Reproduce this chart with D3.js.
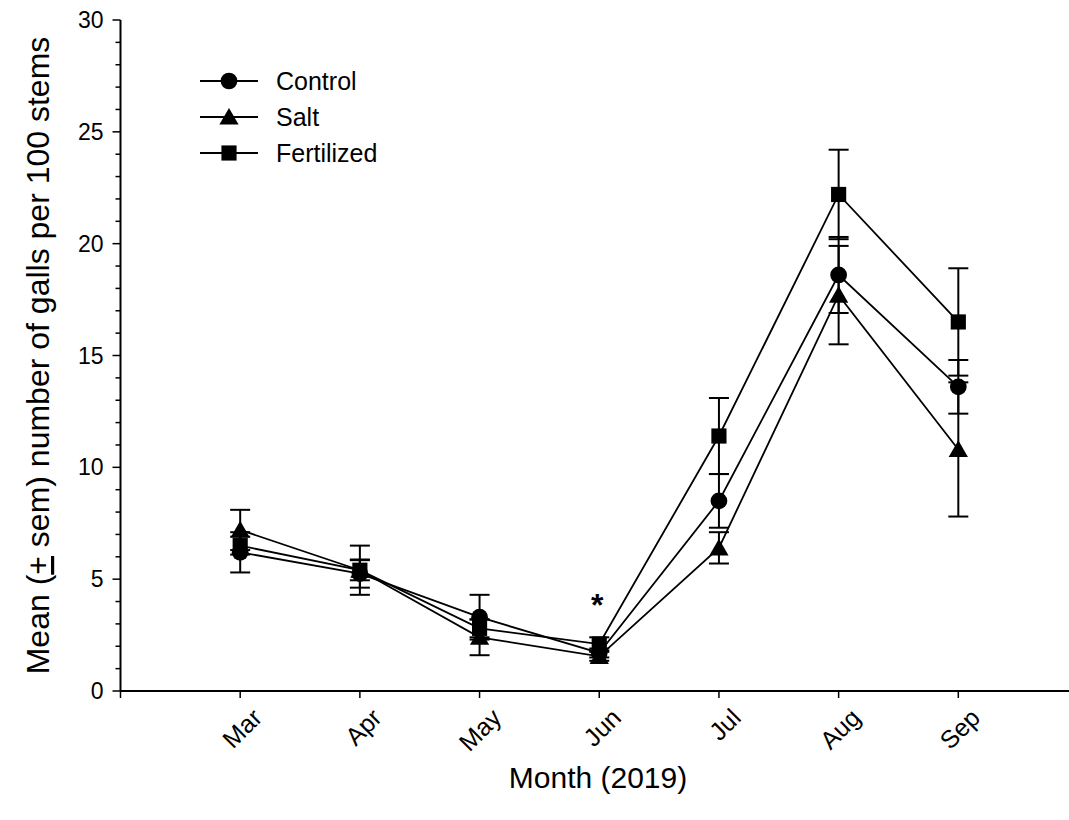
<!DOCTYPE html>
<html>
<head>
<meta charset="utf-8">
<script src="https://cdn.jsdelivr.net/npm/d3@7"></script>
<style>
  html, body { margin: 0; padding: 0; background: #fff; }
  svg { display: block; font-family: "Liberation Sans", Arial, sans-serif; }
</style>
</head>
<body>
<svg id="chart" width="1069" height="820"></svg>
<script>
// Gall counts per 100 stems, monthly means and standard errors (2019)
const months = ["Mar", "Apr", "May", "Jun", "Jul", "Aug", "Sep"];
const controlMean = [6.2, 5.25, 3.3, 1.7, 8.5, 18.6, 13.6];
const controlSem  = [0.9, 0.63, 1.0, 0.2, 1.2, 1.7, 1.2];
const saltMean    = [7.2, 5.4, 2.4, 1.55, 6.4, 17.7, 10.8];
const saltSem     = [0.9, 0.45, 0.8, 0.2, 0.7, 2.2, 3.0];
const fertMean    = [6.5, 5.4, 2.8, 2.1, 11.4, 22.2, 16.5];
const fertSem     = [0.4, 1.1, 0.4, 0.3, 1.7, 2.0, 2.4];
const yTicks = [0, 5, 10, 15, 20, 25, 30];
const significantMonths = ["Jun"];

const series = [
  { name: "Control",    mean: controlMean, sem: controlSem, shape: d3.symbolCircle,   size: 220 },
  { name: "Salt",       mean: saltMean,    sem: saltSem,    shape: d3.symbolTriangle, size: 160 },
  { name: "Fertilized", mean: fertMean,    sem: fertSem,    shape: d3.symbolSquare,   size: 230 }
];

const svg = d3.select("#chart");
const x = d3.scaleLinear().domain([0, 8]).range([120.5, 1078]);
const y = d3.scaleLinear().domain([0, 30]).range([691, 20]);
const mx = i => x(i + 1);

// Axes
const xAxis = svg.append("g").attr("transform", `translate(0,${y(0)})`);
xAxis.append("line").attr("x1", x(0)).attr("x2", 1069).attr("stroke", "#000").attr("stroke-width", 2);
xAxis.selectAll("line.tick").data(d3.range(0, 8)).join("line")
  .attr("class", "tick")
  .attr("x1", d => x(d)).attr("x2", d => x(d)).attr("y1", 0).attr("y2", 7)
  .attr("stroke", "#000").attr("stroke-width", 1.5);
xAxis.selectAll("text").data(months).join("text")
  .attr("transform", (d, i) => `translate(${mx(i) + 11},${16}) rotate(-45)`)
  .attr("text-anchor", "end")
  .attr("dy", "0.7em")
  .attr("font-size", 25)
  .text(d => d);

const yAxis = svg.append("g").attr("transform", `translate(${x(0)},0)`);
yAxis.append("line").attr("y1", y(0)).attr("y2", y(30)).attr("stroke", "#000").attr("stroke-width", 2);
yAxis.selectAll("line.minor").data(d3.range(0, 31)).join("line")
  .attr("class", "minor")
  .attr("x1", d => d % 5 === 0 ? -8 : -5).attr("x2", 0)
  .attr("y1", d => y(d)).attr("y2", d => y(d))
  .attr("stroke", "#000").attr("stroke-width", 1.5);
yAxis.selectAll("text").data(yTicks).join("text")
  .attr("x", -17).attr("y", d => y(d)).attr("dy", "0.35em")
  .attr("text-anchor", "end").attr("font-size", 23)
  .text(d => d);

// Axis titles
svg.append("text")
  .attr("x", 598).attr("y", 788)
  .attr("text-anchor", "middle").attr("font-size", 30)
  .text("Month (2019)");

const yTitle = svg.append("text")
  .attr("transform", `translate(49,${(y(0) + y(30)) / 2}) rotate(-90)`)
  .attr("text-anchor", "middle").attr("font-size", 32);
yTitle.append("tspan").text("Mean (");
yTitle.append("tspan").attr("text-decoration", "underline").text("+");
yTitle.append("tspan").text(" sem) number of galls per 100 stems");

// Lines
const line = d3.line().x((d, i) => mx(i)).y(d => y(d));
svg.append("g").selectAll("path").data(series).join("path")
  .attr("d", s => line(s.mean))
  .attr("fill", "none").attr("stroke", "#000").attr("stroke-width", 1.8);

// Error bars
const capHalf = 10;
series.forEach(s => {
  const g = svg.append("g").attr("stroke", "#000").attr("stroke-width", 2);
  s.mean.forEach((m, i) => {
    const lo = y(m - s.sem[i]), hi = y(m + s.sem[i]), cx = mx(i);
    g.append("line").attr("x1", cx).attr("x2", cx).attr("y1", lo).attr("y2", hi);
    g.append("line").attr("x1", cx - capHalf).attr("x2", cx + capHalf).attr("y1", hi).attr("y2", hi);
    g.append("line").attr("x1", cx - capHalf).attr("x2", cx + capHalf).attr("y1", lo).attr("y2", lo);
  });
});

// Markers
series.forEach(s => {
  const sym = d3.symbol().type(s.shape).size(s.size);
  svg.append("g").selectAll("path").data(s.mean).join("path")
    .attr("d", sym)
    .attr("transform", (d, i) => `translate(${mx(i)},${y(d) + (s.shape === d3.symbolTriangle ? 2 : 0)})`)
    .attr("fill", "#000");
});

// Significance marker
significantMonths.forEach(mo => {
  const i = months.indexOf(mo);
  svg.append("text")
    .attr("x", mx(i) - 2).attr("y", 616)
    .attr("text-anchor", "middle").attr("font-size", 32).attr("font-weight", "bold")
    .text("*");
});

// Legend
const legend = svg.append("g").attr("transform", "translate(200,81)");
series.forEach((s, k) => {
  const row = legend.append("g").attr("transform", `translate(0,${k * 36})`);
  row.append("line").attr("x1", 0).attr("x2", 58).attr("stroke", "#000").attr("stroke-width", 1.8);
  row.append("path").attr("d", d3.symbol().type(s.shape).size(s.size)())
    .attr("transform", `translate(29,${s.shape === d3.symbolTriangle ? 2 : 0})`).attr("fill", "#000");
  row.append("text").attr("x", 76).attr("dy", "0.35em").attr("font-size", 25).text(s.name);
});
</script>
</body>
</html>
